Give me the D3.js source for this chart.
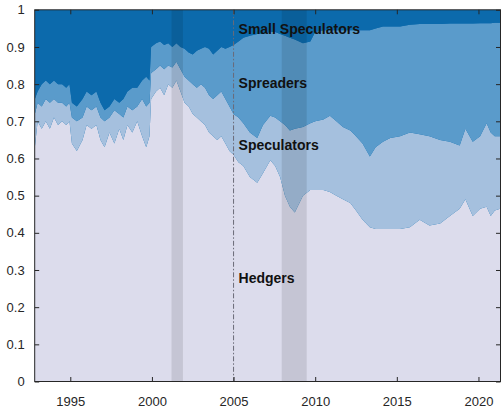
<!DOCTYPE html>
<html><head><meta charset="utf-8">
<script src="https://cdn.jsdelivr.net/npm/d3@7"></script>
<style>body{margin:0;background:#fff}svg{display:block}</style>
</head><body>
<svg id="c" width="501" height="411"></svg>
<script>
const dates = [1992.83,1993.00,1993.25,1993.50,1993.75,1994.00,1994.25,1994.50,1994.75,1994.95,
1995.10,1995.40,1995.75,1996.00,1996.30,1996.60,1996.85,1997.10,1997.40,1997.70,
1998.00,1998.25,1998.50,1998.80,1999.10,1999.40,1999.65,1999.85,1999.95,2000.25,
2000.50,2000.75,2001.00,2001.25,2001.50,2001.75,2002.00,2002.25,2002.50,2002.75,
2003.00,2003.25,2003.50,2003.75,2004.00,2004.25,2004.50,2004.75,2005.00,2005.30,
2005.60,2006.00,2006.45,2006.80,2007.25,2007.55,2007.85,2008.15,2008.45,2008.75,
2009.25,2009.70,2010.00,2010.50,2010.90,2011.30,2011.70,2012.15,2012.50,2012.90,
2013.35,2013.70,2014.15,2014.60,2015.20,2015.80,2016.40,2017.00,2017.65,2018.25,
2018.85,2019.20,2019.65,2020.10,2020.50,2020.75,2021.00,2021.33];
const hedgers = [.63,.70,.68,.70,.68,.71,.69,.70,.69,.70,
.64,.62,.65,.69,.68,.69,.65,.63,.67,.64,
.68,.65,.69,.67,.70,.66,.63,.66,.76,.78,
.79,.77,.80,.79,.81,.78,.75,.74,.72,.71,
.70,.69,.67,.66,.65,.66,.64,.62,.61,.59,
.58,.55,.535,.56,.595,.58,.55,.50,.47,.455,
.50,.515,.515,.515,.51,.50,.49,.48,.46,.435,
.415,.41,.41,.41,.41,.415,.435,.42,.425,.445,
.465,.49,.445,.465,.47,.445,.46,.465];
const speculators = [.09,.05,.06,.06,.07,.05,.06,.05,.05,.05,
.07,.08,.06,.05,.05,.05,.06,.07,.04,.09,
.04,.06,.05,.06,.04,.10,.11,.09,.07,.06,
.06,.07,.05,.055,.05,.06,.07,.07,.08,.08,
.10,.10,.10,.10,.12,.12,.12,.12,.11,.12,
.115,.12,.12,.13,.12,.13,.15,.19,.205,.225,
.185,.18,.185,.19,.205,.20,.195,.195,.20,.205,
.19,.22,.235,.245,.25,.255,.23,.24,.225,.20,
.17,.19,.20,.195,.225,.225,.20,.195];
const spreaders = [.04,.03,.06,.05,.05,.05,.05,.05,.05,.05,
.04,.04,.05,.04,.04,.04,.04,.03,.03,.03,
.03,.05,.04,.06,.05,.05,.08,.06,.07,.07,
.065,.065,.06,.055,.05,.06,.075,.075,.08,.10,
.095,.11,.125,.12,.12,.12,.135,.16,.185,.205,
.23,.26,.28,.245,.225,.23,.235,.24,.25,.24,
.225,.22,.24,.24,.23,.245,.26,.27,.285,.305,
.34,.32,.31,.30,.295,.29,.297,.302,.312,.318,
.328,.283,.318,.304,.269,.294,.305,.305];
const smallSpeculators = [.24,.22,.20,.19,.20,.19,.20,.20,.21,.20,
.25,.26,.24,.22,.23,.22,.25,.27,.26,.24,
.25,.24,.22,.21,.21,.19,.18,.19,.10,.09,
.085,.095,.09,.10,.09,.10,.105,.115,.12,.11,
.105,.10,.105,.12,.11,.10,.105,.10,.095,.085,
.075,.07,.065,.065,.06,.06,.065,.07,.075,.08,
.09,.085,.06,.055,.055,.055,.055,.055,.055,.055,
.055,.05,.045,.045,.045,.04,.038,.038,.038,.037,
.037,.037,.037,.036,.036,.036,.035,.035];
const seriesNames = ["Hedgers","Speculators","Spreaders","Small Speculators"];
const seriesColors = ["#dcdcec","#a5c0de","#5a9bcb","#0c6aac"];
const recessionStart = [2001.2, 2007.95];
const recessionEnd = [2001.9, 2009.48];
const eventYear = 2005;
const xTicks = [1995,2000,2005,2010,2015,2020];
const yTicks = [0,0.1,0.2,0.3,0.4,0.5,0.6,0.7,0.8,0.9,1];

const svg = d3.select("#c");
const L = 34.7, R = 500.5, T = 9.8, B = 381.5;
const x = d3.scaleLinear().domain([1992.82, 2021.35]).range([L, R]);
const y = d3.scaleLinear().domain([0, 1]).range([B, T]);

const rows = dates.map((d,i)=>({date:d, "Hedgers":hedgers[i], "Speculators":speculators[i], "Spreaders":spreaders[i], "Small Speculators":smallSpeculators[i]}));
const layers = d3.stack().keys(seriesNames)(rows);
const area = d3.area().x(d=>x(d.data.date)).y0(d=>y(d[0])).y1(d=>y(d[1]));

svg.append("defs").append("clipPath").attr("id","clip").append("rect")
  .attr("x",L).attr("y",T).attr("width",R-L).attr("height",B-T);
const g = svg.append("g").attr("clip-path","url(#clip)");
g.append("rect").attr("x",L).attr("y",T).attr("width",R-L).attr("height",B-T).attr("fill",seriesColors[3]);
g.selectAll("path.layer").data(layers).join("path").attr("class","layer")
  .attr("fill",(d,i)=>seriesColors[i]).attr("d",(d,i)=> i===3 ? d3.area().x(p=>x(p.data.date)).y0(p=>y(p[0])).y1(y(1))(d) : area(d));

g.selectAll("rect.rec").data(recessionStart).join("rect").attr("class","rec")
  .attr("x",(d)=>x(d)).attr("width",(d,i)=>x(recessionEnd[i])-x(d))
  .attr("y",T).attr("height",B-T).attr("fill","#000").attr("opacity",0.1);

g.append("line").attr("x1",x(eventYear)).attr("x2",x(eventYear)).attr("y1",T).attr("y2",B)
  .attr("stroke","#6b6b78").attr("stroke-width",1).attr("stroke-dasharray","5,2,1.5,2");

const labelY = {"Small Speculators":0.935, "Spreaders":0.789, "Speculators":0.623, "Hedgers":0.265};
svg.selectAll("text.lab").data(seriesNames).join("text").attr("class","lab")
  .attr("x",x(eventYear)+5).attr("y",d=>y(labelY[d]))
  .attr("font-family","Liberation Sans, Arial, sans-serif").attr("font-weight","bold").attr("font-size","14px")
  .attr("fill","#111").text(d=>d);

const axCol = "#262626";
const font = "Liberation Sans, Arial, sans-serif";
function styleAxis(sel){
  sel.select(".domain").remove();
  sel.selectAll(".tick line").attr("stroke",axCol);
  sel.selectAll(".tick text").attr("fill",axCol).attr("font-family",font).attr("font-size","13px");
}
svg.append("g").attr("transform",`translate(0,${B})`)
  .call(d3.axisBottom(x).tickValues(xTicks).tickFormat(d3.format("d")).tickSizeInner(-4.5).tickPadding(15))
  .call(styleAxis);
svg.append("g").attr("transform",`translate(0,${T})`)
  .call(d3.axisTop(x).tickValues(xTicks).tickFormat("").tickSizeInner(-4.5))
  .call(styleAxis);
svg.append("g").attr("transform",`translate(${L},0)`)
  .call(d3.axisLeft(y).tickValues(yTicks).tickFormat(d=>d===0?"0":d===1?"1":d3.format(".1f")(d)).tickSizeInner(-4.5).tickPadding(10))
  .call(styleAxis);
svg.append("g").attr("transform",`translate(${R},0)`)
  .call(d3.axisRight(y).tickValues(yTicks).tickFormat("").tickSizeInner(-4.5))
  .call(styleAxis);
svg.append("rect").attr("x",L).attr("y",T).attr("width",R-L).attr("height",B-T)
  .attr("fill","none").attr("stroke",axCol).attr("stroke-width",1);
</script>
</body></html>
